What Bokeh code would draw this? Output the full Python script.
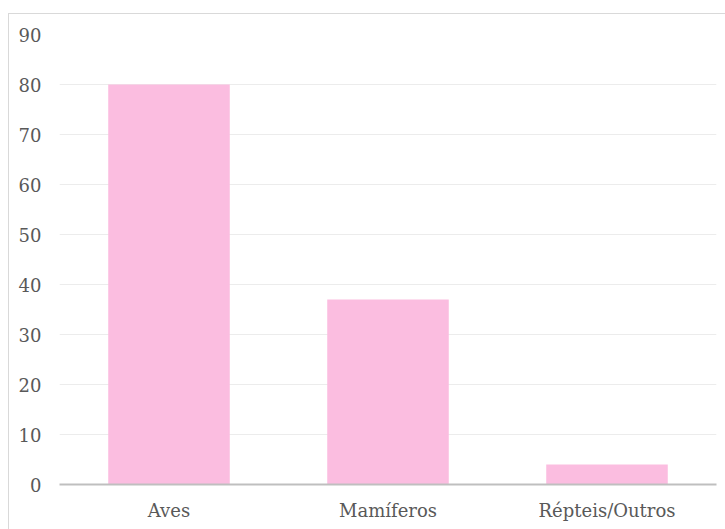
from bokeh.plotting import figure
from bokeh.models import ColumnDataSource, Range1d, FixedTicker
from bokeh.embed import file_html
from bokeh.resources import INLINE

# Animal groups and their counts
categories = ["Aves", "Mamíferos", "Répteis/Outros"]
counts = [80, 37, 4]
y_ticks = [0, 10, 20, 30, 40, 50, 60, 70, 80, 90]

source = ColumnDataSource(data=dict(cat=categories, count=counts))

p = figure(
    x_range=categories,
    y_range=Range1d(0, 90),
    width=717,
    height=516,
    output_backend="svg",
    toolbar_location=None,
    min_border_left=50,
    min_border_right=10,
    min_border_top=20,
    min_border_bottom=46,
)
p.styles = {
    "position": "absolute",
    "left": "8px",
    "top": "13px",
    "border-left": "1px solid #d9d9d9",
    "border-top": "1px solid #d9d9d9",
}

p.vbar(x="cat", top="count", width=0.555, source=source,
       fill_color="#fbbde0", line_color=None)

p.outline_line_color = None
p.background_fill_color = "white"
p.border_fill_color = "white"

p.xgrid.grid_line_color = None
p.ygrid.grid_line_color = "#ececec"
p.ygrid.grid_line_width = 1

p.yaxis.ticker = FixedTicker(ticks=y_ticks)
p.yaxis.axis_line_color = None
p.yaxis.major_tick_line_color = None
p.yaxis.minor_tick_line_color = None
p.yaxis.major_label_standoff = 12

p.xaxis.axis_line_color = "#bfbfbf"
p.xaxis.axis_line_width = 2
p.xaxis.major_tick_line_color = None
p.xaxis.minor_tick_line_color = None
p.xaxis.major_label_standoff = 9

for ax in (p.xaxis, p.yaxis):
    ax.major_label_text_font = "DejaVu Serif"
    ax.major_label_text_font_size = "18px"
    ax.major_label_text_color = "#595959"

open("out.html", "w").write(file_html(p, INLINE))
